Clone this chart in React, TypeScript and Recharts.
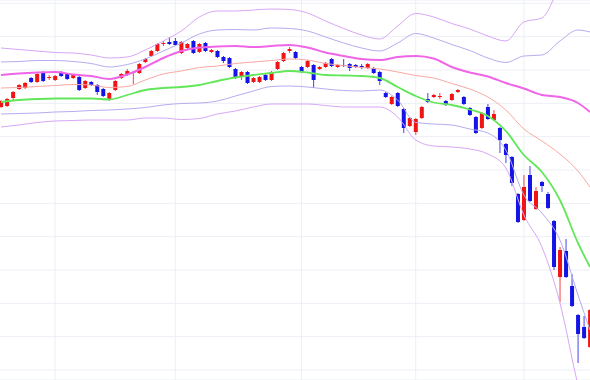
import { Bar, CartesianGrid, ComposedChart, Line, XAxis, YAxis } from "recharts";

// daily candles (oldest first)
const opens = [
  27578, 27584, 27632, 27686, 27692, 27752, 27728, 27782, 27752, 27740,
  27788, 27776, 27752, 27758, 27692, 27728, 27710, 27686, 27620, 27680,
  27752, 27770, 27782, 27782, 27848, 27884, 27914, 27956, 27968, 27974,
  27902, 27932, 27974, 27908, 27962, 27908, 27914, 27878, 27872, 27806,
  27758, 27788, 27728, 27728, 27770, 27740, 27806, 27854, 27914, 27908,
  27818, 27818, 27830, 27806, 27818, 27866, 27818, 27830, 27836, 27830,
  27824, 27812, 27812, 27788, 27662, 27596, 27662, 27566, 27464, 27428,
  27512, 27626, 27638, 27638, 27614, 27620, 27668, 27638, 27572, 27518,
  27452, 27578, 27500, 27452, 27356, 27278, 27056, 26900, 27170, 26966,
  27128, 27056, 26894, 26558, 26714, 26504, 26330, 26258, 26138,
];
const highs = [
  27620, 27632, 27674, 27716, 27728, 27758, 27782, 27794, 27770, 27770,
  27794, 27782, 27776, 27764, 27740, 27734, 27716, 27692, 27668, 27740,
  27782, 27806, 27794, 27842, 27872, 27920, 27962, 27974, 27998, 27992,
  27974, 27962, 27980, 27962, 27968, 27926, 27920, 27884, 27878, 27812,
  27794, 27794, 27758, 27764, 27776, 27794, 27854, 27908, 27938, 27914,
  27824, 27860, 27836, 27824, 27848, 27872, 27836, 27866, 27842, 27836,
  27836, 27842, 27818, 27794, 27668, 27644, 27668, 27572, 27518, 27512,
  27584, 27662, 27656, 27662, 27620, 27662, 27686, 27644, 27578, 27524,
  27548, 27596, 27560, 27458, 27362, 27284, 27062, 27170, 27224, 27098,
  27134, 27068, 26900, 26738, 26786, 26576, 26336, 26324, 26366,
];
const lows = [
  27572, 27578, 27620, 27680, 27686, 27722, 27722, 27728, 27740, 27734,
  27758, 27740, 27746, 27674, 27686, 27704, 27650, 27638, 27614, 27674,
  27746, 27764, 27716, 27776, 27842, 27878, 27908, 27944, 27950, 27944,
  27896, 27926, 27896, 27902, 27908, 27902, 27872, 27842, 27812, 27746,
  27740, 27716, 27722, 27722, 27734, 27734, 27800, 27848, 27902, 27866,
  27782, 27812, 27692, 27800, 27812, 27818, 27812, 27818, 27794, 27812,
  27806, 27806, 27776, 27710, 27632, 27590, 27578, 27422, 27458, 27410,
  27506, 27602, 27632, 27626, 27584, 27614, 27662, 27590, 27524, 27416,
  27446, 27500, 27494, 27302, 27242, 27104, 26882, 26894, 27008, 26960,
  27068, 26966, 26600, 26408, 26552, 26378, 26042, 26186, 26132,
];
const closes = [
  27614, 27626, 27668, 27710, 27722, 27728, 27776, 27734, 27758, 27764,
  27764, 27746, 27770, 27680, 27734, 27710, 27668, 27644, 27662, 27734,
  27776, 27794, 27788, 27836, 27866, 27914, 27956, 27962, 27956, 27950,
  27968, 27956, 27902, 27956, 27914, 27920, 27878, 27854, 27818, 27752,
  27788, 27722, 27752, 27758, 27740, 27788, 27848, 27902, 27926, 27872,
  27788, 27854, 27740, 27818, 27842, 27824, 27830, 27824, 27812, 27818,
  27818, 27836, 27782, 27734, 27638, 27638, 27584, 27452, 27512, 27506,
  27578, 27608, 27650, 27644, 27590, 27656, 27680, 27596, 27530, 27422,
  27542, 27506, 27536, 27380, 27290, 27122, 26888, 27098, 27014, 27074,
  27104, 26972, 26618, 26720, 26558, 26384, 26216, 26192, 26360,
];

// indicator lines, read at every third session
const bandIdx = [
  0, 3, 6, 9, 12, 15, 18, 21, 24, 27, 30, 33, 36, 39, 42, 45, 48,
  51, 54, 57, 60, 63, 66, 69, 72, 75, 78, 81, 84, 87, 90, 93, 96, 98,
];
const green = [
  27608, 27620, 27626, 27629, 27629, 27629, 27623, 27650, 27680, 27692, 27698, 27710,
  27734, 27755, 27770, 27782, 27794, 27785, 27770, 27767, 27764, 27752, 27698, 27644,
  27605, 27590, 27563, 27524, 27434, 27290, 27188, 27020, 26762, 26618,
];
const magenta = [
  27770, 27779, 27785, 27788, 27773, 27764, 27746, 27773, 27818, 27872, 27914, 27935,
  27941, 27944, 27938, 27944, 27950, 27935, 27905, 27884, 27866, 27860, 27878, 27884,
  27869, 27818, 27785, 27761, 27722, 27689, 27650, 27638, 27602, 27548,
];
const salmon = [
  27692, 27695, 27701, 27707, 27713, 27710, 27695, 27701, 27740, 27776, 27794, 27815,
  27824, 27839, 27848, 27857, 27866, 27860, 27839, 27827, 27815, 27806, 27788, 27767,
  27752, 27719, 27686, 27638, 27560, 27446, 27374, 27296, 27194, 27098,
];
const upperInner = [
  27848, 27851, 27857, 27857, 27851, 27839, 27818, 27833, 27866, 27914, 27962, 28016,
  28040, 28043, 28040, 28052, 28049, 28034, 27998, 27962, 27932, 27914, 27962, 28019,
  27992, 27953, 27917, 27872, 27845, 27884, 27890, 27974, 28040, 28028,
];
const upperOuter = [
  27932, 27923, 27914, 27905, 27902, 27890, 27872, 27878, 27920, 27974, 28034, 28118,
  28154, 28154, 28160, 28166, 28163, 28142, 28094, 28049, 28010, 27986, 28064, 28139,
  28118, 28079, 28046, 28004, 27974, 28088, 28112, 28310, 28520, 28580,
];
const lowerInner = [
  27536, 27539, 27542, 27548, 27551, 27557, 27560, 27566, 27575, 27590, 27599, 27602,
  27614, 27644, 27674, 27701, 27704, 27698, 27686, 27677, 27674, 27680, 27620, 27485,
  27476, 27470, 27446, 27422, 27320, 27050, 26942, 26780, 26450, 26240,
];
const lowerOuter = [
  27458, 27470, 27485, 27494, 27497, 27500, 27500, 27500, 27512, 27512, 27503, 27509,
  27536, 27554, 27578, 27596, 27596, 27596, 27587, 27578, 27578, 27578, 27518, 27380,
  27344, 27338, 27326, 27296, 27212, 26930, 26738, 26402, 25910, 25640,
];

// month starts (vertical grid) and price grid
const monthTicks = [9, 29, 50, 69, 87];
const priceTicks = [
  26000, 26200, 26400, 26600, 26800, 27000, 27200, 27400, 27600, 27800, 28000, 28200,
];

const RED = "#f01414";
const BLUE = "#1414e6";

const rows = opens.map((o, i) => ({
  i,
  o,
  h: highs[i],
  l: lows[i],
  c: closes[i],
  range: [lows[i], highs[i]],
}));

const toPoints = (vals: number[]) => bandIdx.map((i, k) => ({ i, v: vals[k] }));

const bands = [
  { key: "upperOuter", vals: upperOuter, color: "#d7a6f6", w: 1 },
  { key: "upperInner", vals: upperInner, color: "#b4acf0", w: 1 },
  { key: "magenta", vals: magenta, color: "#f064e6", w: 2 },
  { key: "salmon", vals: salmon, color: "#f8a8a2", w: 1 },
  { key: "green", vals: green, color: "#62e65a", w: 1.8 },
  { key: "lowerInner", vals: lowerInner, color: "#b4acf0", w: 1 },
  { key: "lowerOuter", vals: lowerOuter, color: "#d7a6f6", w: 1 },
];

function Candle(props: any) {
  const { x, y, width, height, payload } = props;
  if (payload == null) return null;
  const { o, h, l, c } = payload;
  const top = Math.min(y, y + height);
  const full = Math.abs(height);
  const span = h - l || 1;
  const yAt = (v: number) => top + ((h - v) / span) * full;
  const cx = x + width / 2;
  const color = c >= o ? RED : BLUE;
  const bTop = yAt(Math.max(o, c));
  const bBot = yAt(Math.min(o, c));
  const bw = 4;
  return (
    <g>
      <line x1={cx} x2={cx} y1={top} y2={top + full} stroke={color} strokeWidth={1} strokeOpacity={0.8} />
      <rect x={cx - bw / 2} y={bTop} width={bw} height={Math.max(bBot - bTop, 1)} fill={color} />
    </g>
  );
}

export default function App() {
  return (
    <div style={{ width: 590, height: 380, overflow: "hidden", position: "relative", background: "#fff" }}>
      <style>{"body{margin:0}"}</style>
      <div style={{ position: "absolute", left: -2, top: 0 }}>
        <ComposedChart
          width={595}
          height={380}
          data={rows}
          margin={{ top: 0, right: 0, bottom: 0, left: 0 }}
          barCategoryGap="10%"
        >
          <CartesianGrid stroke="#eceff5" />
          <XAxis dataKey="i" hide ticks={monthTicks} interval={0} />
          <XAxis xAxisId="n" dataKey="i" type="number" domain={[-0.5, 98.5]} hide />
          <YAxis
            hide
            type="number"
            domain={[25940, 28220]}
            ticks={priceTicks}
            allowDataOverflow
          />
          {bands.map((b) => (
            <Line
              key={b.key}
              xAxisId="n"
              data={toPoints(b.vals)}
              dataKey="v"
              type="monotone"
              stroke={b.color}
              strokeWidth={b.w}
              dot={false}
              activeDot={false}
              isAnimationActive={false}
            />
          ))}
          <Bar dataKey="range" shape={<Candle />} isAnimationActive={false} />
        </ComposedChart>
      </div>
    </div>
  );
}
